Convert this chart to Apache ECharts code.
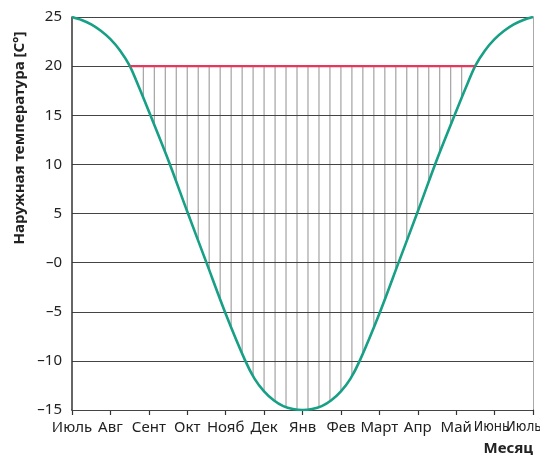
<!DOCTYPE html>
<html>
<head>
<meta charset="utf-8">
<script src="https://cdn.jsdelivr.net/npm/echarts@6/dist/echarts.min.js"></script>
<style>
html,body{margin:0;padding:0;background:#fff;}
#chart{width:540px;height:457px;}
</style>
</head>
<body>
<div id="chart"></div>
<script>
// ---- data ----
const monthLabels = ['Июль','Авг','Сент','Окт','Нояб','Дек','Янв','Фев','Март','Апр','Май','Июнь','Июль'];
const yTickValues = [-15,-10,-5,0,5,10,15,20,25];
const yTickLabels = ['–15','–10','–5','–0','5','10','15','20','25'];
// outside temperature curve (month index from July = 0)
const curveX = [0,0.25,0.5,0.75,1.0,1.25,1.5,1.75,2.0,2.5,3.0,3.5,4.0,4.5,4.75,5.0,5.25,5.5,5.75,6.0,
                6.25,6.5,6.75,7.0,7.25,7.5,8.0,8.5,9.0,9.5,10.0,10.25,10.5,10.75,11.0,11.25,11.5,11.75,12];
const curveY = [25,24.7,24.25,23.6,22.75,21.6,20.05,17.8,15.4,10.5,5.2,0,-5.2,-9.9,-11.8,-13.1,-14.0,-14.6,-14.9,-15,
                -14.9,-14.6,-14.0,-13.1,-11.8,-9.9,-5.2,0,5.2,10.5,15.4,17.8,20.05,21.6,22.75,23.6,24.25,24.7,25];
// heating limit line
const limitX = [1.52, 10.48];
const limitValue = 20;
// hatch lines positions (month index)
const hatchX = [1.857,2.143,2.429,2.714,3.0,3.286,3.571,3.857,4.143,4.429,4.714,5.0,5.286,5.571,5.857,
                6.143,6.429,6.714,7.0,7.286,7.571,7.857,8.143,8.429,8.714,9.0,9.286,9.571,9.857,10.143];

const yMin = -15, yMax = 25;
const FONT = 'Noto Sans';
const NARROW = '"DejaVu Sans Condensed","Liberation Sans Narrow","Noto Sans"';

const curveData = curveX.map((x,i)=>[x,curveY[i]]);
const chart = echarts.init(document.getElementById('chart'));
const option = {
  animation:false,
  backgroundColor:'#fff',
  grid:{left:72,right:7,top:17,bottom:47,containLabel:false,outerBoundsMode:'none'},
  xAxis:[{
    type:'category',data:monthLabels,boundaryGap:false,
    axisLine:{show:true,onZero:false,lineStyle:{color:'#333',width:1.5}},
    axisTick:{show:true,interval:0,length:5,lineStyle:{color:'#333',width:1.2}},
    axisLabel:{interval:0,margin:10,color:'#222',fontFamily:FONT,fontSize:15,hideOverlap:false,
      formatter:(v,i)=>{
        if (i === 12) return '{e|' + v + '}';
        if (i === 11) return '{n|' + v + '}';
        return v;
      },
      rich:{
        n:{fontFamily:NARROW,fontSize:14,color:'#222',padding:[0,6,0,0]},
        e:{fontFamily:NARROW,fontSize:14,color:'#222',padding:[0,18,0,0]}
      }
    },
    splitLine:{show:false}
  },{
    type:'value',min:0,max:12,show:false
  }],
  yAxis:[{
    type:'value',min:yMin,max:yMax,interval:5,z:3,
    axisLine:{show:true,lineStyle:{color:'#333',width:1.5}},
    axisTick:{show:false},
    axisLabel:{margin:10,color:'#222',fontFamily:FONT,fontSize:15,
      formatter:v=>yTickLabels[yTickValues.indexOf(v)]},
    splitLine:{show:true,lineStyle:{color:'#444',width:1.2}}
  },{
    type:'value',min:yMin,max:yMax,interval:5,position:'right',
    axisLine:{show:true,lineStyle:{color:'#aaa',width:2}},
    axisTick:{show:false},axisLabel:{show:false},splitLine:{show:false}
  }],
  graphic:[
    {type:'text',x:20,y:138,rotation:Math.PI/2,
     style:{text:'Наружная температура [C°]',font:'bold 15px "Noto Sans"',fill:'#222',
            textAlign:'center',textVerticalAlign:'middle'}},
    {type:'text',x:533,y:449,
     style:{text:'Месяц',font:'bold 15px "Noto Sans"',fill:'#222',
            textAlign:'right',textVerticalAlign:'middle'}}
  ],
  series:[
    {
      type:'custom',z:1,silent:true,xAxisIndex:1,
      data:hatchX.map(x=>[x]),
      renderItem:(params,api)=>{
        const x = api.value(0);
        const p1 = api.coord([x,yMin]);
        const p2 = api.coord([x,limitValue]);
        return {type:'line',shape:{x1:p1[0],y1:p1[1],x2:p2[0],y2:p2[1]},
                style:{stroke:'#a3a3a3',lineWidth:1.2}};
      }
    },
    {
      type:'line',z:2,silent:true,xAxisIndex:1,smooth:0.3,showSymbol:false,
      data:curveData,
      lineStyle:{width:0,opacity:0},
      areaStyle:{color:'#ffffff',opacity:1,origin:'start'}
    },
    {
      type:'line',z:6,silent:true,xAxisIndex:1,showSymbol:false,
      data:limitX.map(x=>[x,limitValue]),
      lineStyle:{color:'#e8365d',width:2.2}
    },
    {
      type:'line',z:5,silent:true,xAxisIndex:1,smooth:0.3,showSymbol:false,
      data:curveData,
      lineStyle:{color:'#17a085',width:2.6}
    }
  ]
};
chart.setOption(option);
</script>
</body>
</html>
